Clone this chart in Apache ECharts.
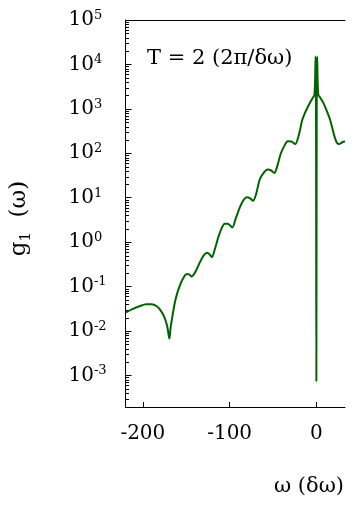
<!DOCTYPE html>
<html>
<head>
<meta charset="utf-8">
<script src="https://cdn.jsdelivr.net/npm/echarts@6/dist/echarts.min.js"></script>
<style>
  html, body { margin: 0; padding: 0; background: #fff; }
  #chart { width: 356px; height: 506px; }
</style>
</head>
<body>
<div id="chart"></div>
<script>
// Frequency axis, in units of δω
const omega = [
  -220, -212, -204, -196, -190, -184, -179, -175, -172, -170, -169.3, -168, -166,
  -163, -160, -156.5, -153, -150, -147, -144, -141, -138, -134, -130, -126, -123,
  -120.5, -117, -113, -109, -105.5, -102, -97, -93, -88, -84, -80, -76, -73,
  -69.5, -65.5, -61, -56, -52, -48.5, -45, -41, -37, -33, -29, -24.5, -20,
  -16.3, -13, -10.6, -6.8, -3.5, -2.3, -1.5, -0.9, -0.4, 0, 0.4, 0.9, 1.5, 2.3,
  3.75, 6, 8.3, 12, 15.9, 19, 21.6, 23.5, 25.3, 28, 31, 33
];
// g1(ω) for T = 2 (2π/δω)
const g1 = [
  0.0258, 0.031, 0.036, 0.040, 0.040, 0.036, 0.028, 0.020, 0.013, 0.0075, 0.0068, 0.012, 0.021,
  0.045, 0.075, 0.117, 0.16, 0.19, 0.19, 0.168, 0.19, 0.245, 0.36, 0.5, 0.574, 0.53,
  0.46, 0.7, 1.3, 2.1, 2.6, 2.6, 2.15, 3.4, 6.2, 8.8, 10.2, 9.6, 8.5,
  12, 25, 36, 43, 41, 36, 52, 99, 145, 186, 185, 161, 270,
  560, 820, 1030, 1445, 1850, 2050, 4000, 15000, 1000, 0.00075, 1000, 15000, 4000, 2050,
  1874, 1600, 1330, 900, 560, 330, 217, 175, 161, 168, 182, 184
];
// Axis ranges and tick positions
const xRange = [-220, 33];
const xTicks = [-200, -100, 0];
const yRange = [0.000195, 1e5];
const yDecades = [-3, -2, -1, 0, 1, 2, 3, 4, 5];

const lg = Math.log10;
const yMin = lg(yRange[0]);
const yMax = lg(yRange[1]);

// minor ticks at 2..9 × 10^n (in log10 units)
const yMinor = [];
for (let n = -4; n <= 4; n++) {
  for (let k = 2; k <= 9; k++) {
    const v = lg(k * Math.pow(10, n));
    if (v > yMin && v < yMax) yMinor.push(v);
  }
}

const serif = 'DejaVu Serif';
const chart = echarts.init(document.getElementById('chart'), null, { renderer: 'canvas' });

chart.setOption({
  animation: false,
  backgroundColor: '#fff',
  grid: { left: 123, right: 11, top: 20, bottom: 99, containLabel: false },
  xAxis: [
    {
      type: 'value', min: xRange[0], max: xRange[1],
      axisLine: { show: true, onZero: false, lineStyle: { color: '#000', width: 1 } },
      axisTick: { show: true, inside: true, length: 5, customValues: xTicks, lineStyle: { color: '#000' } },
      axisLabel: {
        show: true, customValues: xTicks, margin: 17,
        fontFamily: serif, fontSize: 20, color: '#000'
      },
      splitLine: { show: false }
    },
    {
      type: 'value', position: 'top', min: xRange[0], max: xRange[1],
      axisLine: { show: true, onZero: false, lineStyle: { color: '#000', width: 1 } },
      axisTick: { show: false }, axisLabel: { show: false }, splitLine: { show: false }
    }
  ],
  yAxis: [
    {
      type: 'value', position: 'left', min: yMin, max: yMax,
      axisLine: { show: true, onZero: false, lineStyle: { color: '#000', width: 1 } },
      axisTick: { show: true, inside: true, length: 6, customValues: yDecades, lineStyle: { color: '#000' } },
      axisLabel: {
        show: true, customValues: yDecades, margin: 57, align: 'left',
        formatter: v => '{b|10}{s|' + v + '}',
        rich: {
          b: { fontFamily: serif, fontSize: 20, lineHeight: 22, color: '#000' },
          s: { fontFamily: serif, fontSize: 13, lineHeight: 13, verticalAlign: 'top', color: '#000' }
        }
      },
      splitLine: { show: false },
      name: '{g|g}{sub|1}{g|  (ω)}',
      nameLocation: 'middle', nameRotate: 90, nameGap: 92,
      nameTextStyle: {
        padding: [0, 10, 0, 0],
        rich: {
          g: { fontFamily: serif, fontSize: 23, lineHeight: 28, color: '#000' },
          sub: { fontFamily: serif, fontSize: 15, lineHeight: 15, verticalAlign: 'bottom', color: '#000' }
        }
      }
    }
  ],
  graphic: [
    {
      type: 'text', left: 147, top: 48, silent: true,
      style: { text: 'T = 2 (2π/δω)', fontFamily: serif, fontSize: 21, fill: '#000' }
    },
    {
      type: 'text', left: 274, top: 476, silent: true,
      style: { text: 'ω (δω)', fontFamily: serif, fontSize: 21, fill: '#000' }
    }
  ],
  series: [
    {
      // minor log ticks along the left frame line
      type: 'custom', xAxisIndex: 0, yAxisIndex: 0, silent: true, clip: false,
      data: yMinor.map(v => [xRange[0], v]),
      renderItem: (params, api) => {
        const p = api.coord([api.value(0), api.value(1)]);
        const y = Math.round(p[1]) + 0.5;
        return {
          type: 'line',
          shape: { x1: p[0], y1: y, x2: p[0] + 3.5, y2: y },
          style: { stroke: '#000', lineWidth: 1 }
        };
      }
    },
    {
      type: 'line', xAxisIndex: 0, yAxisIndex: 0,
      data: omega.map((w, i) => [w, lg(g1[i])]),
      showSymbol: false, smooth: 0.3,
      lineStyle: { color: '#006400', width: 2 },
      clip: true
    }
  ]
});
</script>
</body>
</html>
